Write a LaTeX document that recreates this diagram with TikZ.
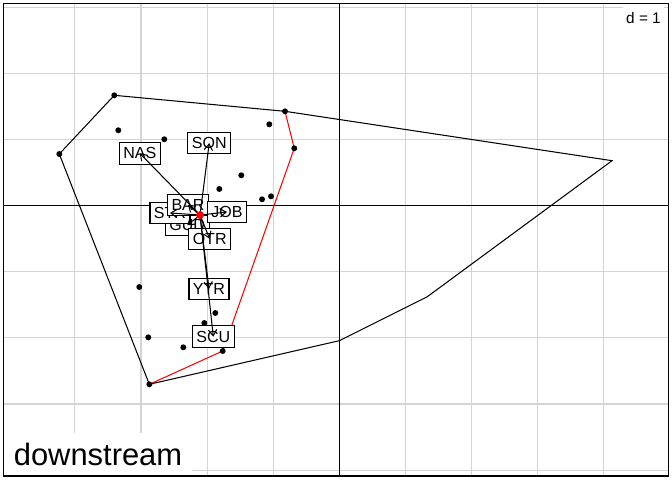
\documentclass[tikz,border=0pt]{standalone}
\usepackage{fontspec}
\setmainfont{Liberation Sans}
\usetikzlibrary{arrows.meta}

\tikzset{
  gridline/.style={draw=black!17, line width=0.45pt},
  hull/.style={line width=0.45pt},
  dot/.style={circle, fill=black, inner sep=0pt, minimum size=0.09cm},
  lab/.style={draw, fill=white, line width=0.45pt, inner xsep=0.06cm, inner ysep=0pt,
    minimum height=0.325cm, text height=4.9pt, text depth=0pt,
    font=\fontsize{6.9}{8}\selectfont},
  arr/.style={-{Straight Barb[length=2.6pt,width=3.6pt]}, line width=0.45pt},
}

\begin{document}
\begin{tikzpicture}
    \useasboundingbox (-5.133,-4.149) rectangle (5.033,3.112);

    % Grid
    \foreach \x in {-4,-3,-2,-1,1,2,3,4}
        \draw[gridline] (\x,-4.09) -- (\x,3.06);
    \foreach \y in {-4,-3,-2,-1,1,2,3}
        \draw[gridline] (-5.08,\y) -- (4.98,\y);

    % Axes
    \draw[line width=0.45pt] (-5.08,0) -- (4.98,0);
    \draw[line width=0.45pt] (0,-4.09) -- (0,3.06);

    % Hull vertices
    \coordinate (h1) at (-4.236,0.782);
    \coordinate (h2) at (-3.404,1.670);
    \coordinate (h3) at (-0.821,1.428);
    \coordinate (h4) at (4.126,0.681);
    \coordinate (h5) at (1.331,-1.377);
    \coordinate (h6) at (0,-2.042);
    \coordinate (h7) at (-2.874,-2.702);
    \coordinate (r1) at (-0.681,0.868);
    \coordinate (r2) at (-1.764,-2.198);

    % Hulls
    \draw[hull, red] (h3) -- (r1) -- (r2) -- (h7);
    \draw[hull] (h1) -- (h2) -- (h3) -- (h4) -- (h5) -- (h6) -- (h7) -- cycle;

    % Sites
    \foreach \p in {h1,h2,h3,h7,r1,r2}
        \node[dot] at (\p) {};
    \foreach \px/\py in {-3.343/1.141, -2.648/1.005, -1.059/1.231, -1.483/0.460,
        -1.815/0.253, -1.169/0.097, -1.033/0.142, -3.026/-1.230, -2.890/-1.991,
        -2.360/-2.142, -2.042/-1.775, -1.876/-1.623}
        \node[dot] at (\px,\py) {};

    % Labels
    \node[lab] (nas) at (-3.018,0.793) {NAS};
    \node[lab] (son) at (-1.968,0.946) {SON};
    \node[lab] (gud) at (-2.300,-0.295) {GUD};
    \node[lab] (str) at (-2.561,-0.110) {STR};
    \node[lab] (bar) at (-2.289,0.014) {BAR};
    \node[lab] (otr) at (-1.961,-0.501) {OTR};
    \node[lab] (job) at (-1.699,-0.095) {JOB};
    \node[lab] (ytr) at (-1.971,-1.257) {YTR};
    \node[lab] (scu) at (-1.906,-1.982) {SCU};

    % Arrows from the centre
    \coordinate (ctr) at (-2.107,-0.141);
    \foreach \l in {nas,son,gud,str,bar,otr,job,ytr,scu}
        \draw[arr] (ctr) -- (\l.center);
    \node[circle, fill=red, inner sep=0pt, minimum size=0.12cm] (mid) at (ctr) {};

    % Corner texts
    \node[fill=white, anchor=north east, inner xsep=0.05cm, inner ysep=0.13cm,
        font=\fontsize{6.6}{8}\selectfont] (scale) at (4.92,3.06) {d = 1};
    \node[fill=white, anchor=south west, inner xsep=0.15cm, inner ysep=0.15cm,
        font=\fontsize{13.3}{15}\selectfont] (title) at (-5.08,-4.09) {downstream};

    % Frame
    \draw[line width=0.5pt] (-5.08,-4.09) rectangle (4.98,3.06);
\end{tikzpicture}
\end{document}
